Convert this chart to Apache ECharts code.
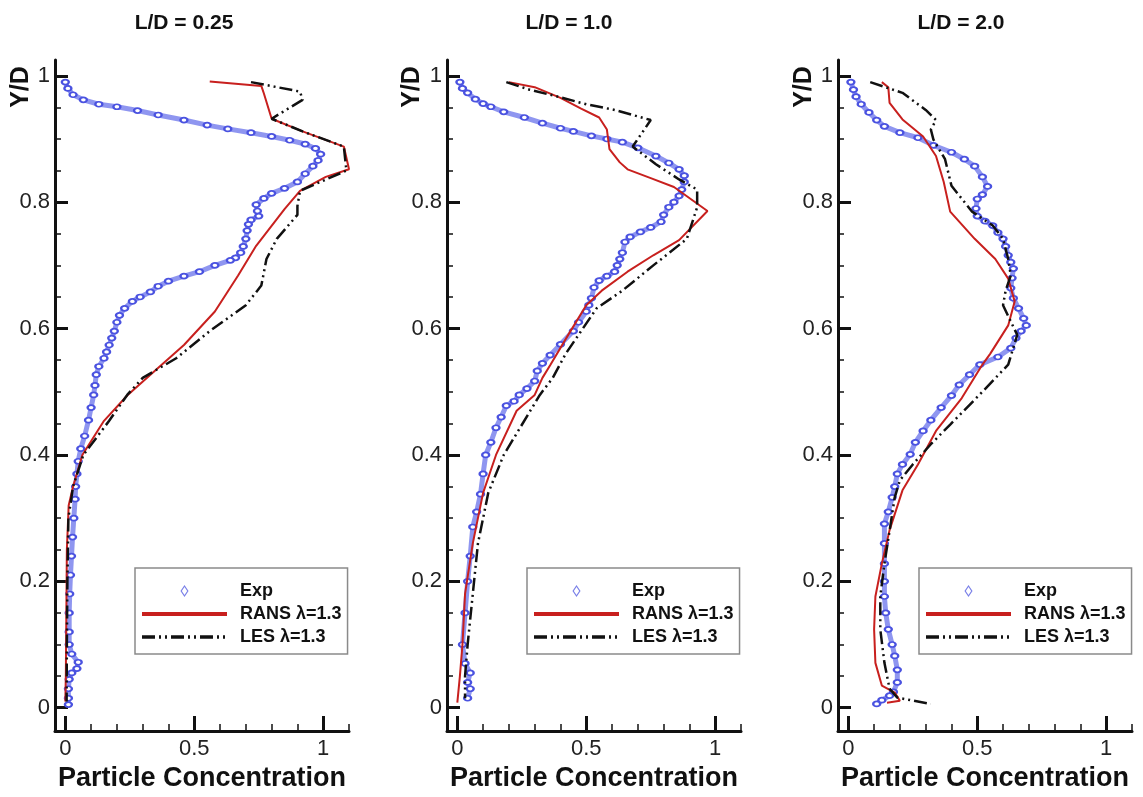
<!DOCTYPE html>
<html>
<head>
<meta charset="utf-8">
<script src="https://cdn.jsdelivr.net/npm/echarts@6/dist/echarts.min.js"></script>
<style>
  html, body { margin: 0; padding: 0; background: #fff; }
  #chart { width: 1143px; height: 797px; }
</style>
</head>
<body>
<div id="chart"></div>
<script>
// Particle concentration profiles Y/D at three stations L/D
const panelTitles = ['L/D = 0.25', 'L/D = 1.0', 'L/D = 2.0'];
const seriesNames = ['Exp', 'RANS λ=1.3', 'LES λ=1.3'];
const xMajorTicks = [0, 0.5, 1];
const xMinorTicks = [0.1, 0.2, 0.3, 0.4, 0.6, 0.7, 0.8, 0.9, 1.1];
const yMajorTicks = [0, 0.2, 0.4, 0.6, 0.8, 1];
const yMinorTicks = [0.05, 0.1, 0.15, 0.25, 0.3, 0.35, 0.45, 0.5, 0.55, 0.65, 0.7, 0.75, 0.85, 0.9, 0.95];

// [concentration, Y/D]
const exp025 = [[0.0,0.99],[0.01,0.98],[0.03,0.97],[0.07,0.962],[0.13,0.955],[0.2,0.951],[0.28,0.945],[0.36,0.938],[0.46,0.93],[0.55,0.922],[0.63,0.916],[0.72,0.91],[0.8,0.904],[0.87,0.898],[0.93,0.892],[0.97,0.885],[0.99,0.876],[0.98,0.866],[0.96,0.857],[0.93,0.845],[0.9,0.832],[0.85,0.822],[0.8,0.814],[0.77,0.806],[0.74,0.796],[0.745,0.786],[0.75,0.778],[0.72,0.772],[0.71,0.765],[0.705,0.755],[0.7,0.742],[0.69,0.73],[0.68,0.72],[0.66,0.712],[0.64,0.708],[0.58,0.7],[0.52,0.69],[0.46,0.683],[0.4,0.675],[0.36,0.667],[0.33,0.658],[0.29,0.65],[0.26,0.643],[0.23,0.632],[0.21,0.621],[0.2,0.61],[0.19,0.596],[0.18,0.585],[0.17,0.574],[0.16,0.563],[0.15,0.553],[0.13,0.54],[0.12,0.527],[0.115,0.51],[0.11,0.495],[0.1,0.475],[0.09,0.455],[0.075,0.43],[0.06,0.41],[0.05,0.39],[0.045,0.37],[0.04,0.35],[0.038,0.33],[0.033,0.3],[0.028,0.27],[0.024,0.24],[0.02,0.21],[0.017,0.18],[0.015,0.15],[0.015,0.12],[0.015,0.1],[0.025,0.085],[0.05,0.072],[0.045,0.062],[0.025,0.055],[0.015,0.045],[0.012,0.03],[0.012,0.015],[0.012,0.005]];
const rans025 = [[0.56,0.991],[0.76,0.984],[0.77,0.972],[0.8,0.932],[0.92,0.912],[1.08,0.888],[1.1,0.852],[1.01,0.84],[0.91,0.818],[0.85,0.789],[0.74,0.731],[0.67,0.684],[0.58,0.627],[0.46,0.574],[0.33,0.527],[0.24,0.494],[0.15,0.454],[0.066,0.4],[0.03,0.35],[0.013,0.32],[0.006,0.25],[0.004,0.15],[0.002,0.05],[0.0,0.01]];
const les025 = [[0.72,0.99],[0.91,0.975],[0.92,0.962],[0.8,0.932],[0.92,0.912],[1.08,0.888],[1.09,0.85],[0.91,0.818],[0.9,0.794],[0.9,0.78],[0.82,0.742],[0.78,0.71],[0.76,0.668],[0.7,0.637],[0.56,0.596],[0.43,0.553],[0.3,0.522],[0.24,0.495],[0.17,0.454],[0.07,0.4],[0.03,0.35],[0.012,0.3],[0.008,0.2],[0.006,0.1],[0.005,0.01]];

const exp10 = [[0.01,0.99],[0.02,0.98],[0.04,0.973],[0.07,0.963],[0.1,0.956],[0.13,0.951],[0.18,0.943],[0.26,0.934],[0.33,0.925],[0.4,0.917],[0.45,0.912],[0.52,0.905],[0.58,0.9],[0.64,0.895],[0.7,0.886],[0.77,0.873],[0.82,0.862],[0.86,0.852],[0.88,0.842],[0.88,0.832],[0.87,0.82],[0.86,0.81],[0.84,0.8],[0.82,0.792],[0.8,0.78],[0.79,0.769],[0.75,0.76],[0.71,0.753],[0.67,0.745],[0.65,0.737],[0.64,0.72],[0.63,0.71],[0.62,0.7],[0.61,0.69],[0.58,0.683],[0.55,0.676],[0.53,0.665],[0.52,0.648],[0.51,0.637],[0.5,0.627],[0.47,0.61],[0.45,0.596],[0.4,0.575],[0.36,0.558],[0.33,0.545],[0.31,0.533],[0.3,0.517],[0.27,0.505],[0.24,0.495],[0.22,0.485],[0.19,0.478],[0.17,0.46],[0.15,0.443],[0.13,0.42],[0.11,0.4],[0.1,0.37],[0.09,0.338],[0.075,0.31],[0.06,0.286],[0.05,0.24],[0.04,0.2],[0.03,0.15],[0.02,0.1],[0.03,0.07],[0.05,0.055],[0.04,0.04],[0.05,0.03],[0.04,0.015]];
const rans10 = [[0.2,0.99],[0.3,0.982],[0.4,0.965],[0.48,0.948],[0.55,0.934],[0.58,0.915],[0.59,0.884],[0.63,0.863],[0.66,0.852],[0.75,0.838],[0.84,0.824],[0.97,0.786],[0.86,0.74],[0.76,0.716],[0.66,0.69],[0.56,0.66],[0.5,0.637],[0.43,0.59],[0.36,0.542],[0.33,0.522],[0.3,0.495],[0.23,0.47],[0.15,0.4],[0.1,0.34],[0.06,0.26],[0.03,0.18],[0.02,0.1],[0.01,0.05],[0.0,0.008]];
const les10 = [[0.19,0.99],[0.28,0.978],[0.39,0.967],[0.5,0.955],[0.61,0.946],[0.75,0.93],[0.68,0.888],[0.77,0.86],[0.86,0.836],[0.93,0.82],[0.93,0.792],[0.89,0.742],[0.76,0.7],[0.64,0.66],[0.54,0.632],[0.48,0.596],[0.42,0.56],[0.37,0.522],[0.32,0.495],[0.18,0.4],[0.12,0.34],[0.08,0.26],[0.06,0.18],[0.04,0.1],[0.03,0.05],[0.03,0.015]];

const exp20 = [[0.01,0.99],[0.02,0.978],[0.03,0.967],[0.05,0.955],[0.08,0.942],[0.11,0.93],[0.14,0.92],[0.2,0.91],[0.27,0.902],[0.33,0.89],[0.4,0.879],[0.45,0.868],[0.49,0.857],[0.52,0.84],[0.54,0.825],[0.52,0.812],[0.5,0.805],[0.495,0.79],[0.5,0.778],[0.53,0.77],[0.56,0.763],[0.58,0.752],[0.6,0.742],[0.61,0.73],[0.62,0.716],[0.63,0.705],[0.64,0.695],[0.635,0.68],[0.63,0.664],[0.64,0.648],[0.66,0.632],[0.68,0.616],[0.69,0.605],[0.67,0.596],[0.65,0.585],[0.63,0.569],[0.58,0.555],[0.51,0.543],[0.47,0.527],[0.43,0.511],[0.4,0.494],[0.36,0.475],[0.32,0.455],[0.29,0.438],[0.26,0.42],[0.24,0.401],[0.21,0.385],[0.19,0.37],[0.18,0.35],[0.17,0.333],[0.155,0.31],[0.14,0.291],[0.14,0.26],[0.14,0.228],[0.14,0.2],[0.14,0.176],[0.145,0.15],[0.155,0.124],[0.17,0.1],[0.18,0.082],[0.19,0.06],[0.19,0.04],[0.175,0.025],[0.16,0.019],[0.13,0.012],[0.11,0.006]];
const rans20 = [[0.13,0.99],[0.155,0.982],[0.16,0.957],[0.21,0.931],[0.29,0.904],[0.34,0.873],[0.37,0.832],[0.395,0.785],[0.49,0.742],[0.57,0.71],[0.62,0.679],[0.645,0.643],[0.62,0.605],[0.55,0.56],[0.52,0.543],[0.44,0.49],[0.34,0.438],[0.27,0.385],[0.21,0.344],[0.16,0.281],[0.13,0.228],[0.105,0.176],[0.1,0.124],[0.105,0.071],[0.13,0.035],[0.18,0.024],[0.2,0.011],[0.15,0.008]];
const les20 = [[0.085,0.99],[0.21,0.973],[0.3,0.946],[0.34,0.93],[0.32,0.915],[0.33,0.899],[0.375,0.868],[0.4,0.826],[0.48,0.785],[0.56,0.763],[0.6,0.742],[0.62,0.71],[0.63,0.684],[0.61,0.66],[0.6,0.637],[0.63,0.611],[0.655,0.59],[0.62,0.543],[0.52,0.5],[0.395,0.448],[0.32,0.417],[0.25,0.385],[0.2,0.36],[0.18,0.333],[0.16,0.28],[0.14,0.228],[0.124,0.176],[0.124,0.124],[0.14,0.071],[0.16,0.03],[0.19,0.016],[0.32,0.006]];

const panelData = [
  [exp025, rans025, les025],
  [exp10, rans10, les10],
  [exp20, rans20, les20]
];

const FONT = '"Liberation Sans", Arial, Helvetica, sans-serif';
const INK = '#111';
const BLUE = '#4a52e0';
const RED = '#c8201e';
const DASH_DOT_DOT = [13, 4, 2, 4, 2, 4];
const DIAMOND_ICON = 'path://M5,0L9,6L5,12L1,6Z';

// layout of the three panels
const gridLeft = [55, 447, 838];
const gridWidth = 294;
const gridTop = 60;
const gridHeight = 675.5;
const legendLeft = [135, 527, 919];
const titleX = [184, 569, 961];
const ylabX = [21, 412, 804];

const fmt = v => String(Math.round(v * 100) / 100);

const grid = [], xAxis = [], yAxis = [], series = [], legend = [], graphic = [];

panelData.forEach((sets, p) => {
  grid.push({ left: gridLeft[p], top: gridTop, width: gridWidth, height: gridHeight });

  // major x axis: line, labels, long ticks, name
  xAxis.push({
    type: 'value', gridIndex: p, position: 'bottom', min: -0.04, max: 1.1,
    splitLine: { show: false },
    axisLine: { show: true, onZero: false, lineStyle: { color: INK, width: 3 } },
    axisTick: { show: true, inside: true, length: 15, customValues: xMajorTicks, lineStyle: { color: INK, width: 3 } },
    axisLabel: { show: true, customValues: xMajorTicks, formatter: fmt, margin: 7,
      fontFamily: FONT, fontSize: 22, color: '#222' },
    name: 'Particle Concentration', nameLocation: 'middle', nameGap: 33,
    nameTextStyle: { fontFamily: FONT, fontSize: 27, fontWeight: 'bold', color: INK }
  });
  // minor x ticks
  xAxis.push({
    type: 'value', gridIndex: p, position: 'bottom', min: -0.04, max: 1.1,
    splitLine: { show: false }, axisLine: { show: false, onZero: false },
    axisTick: { show: true, inside: true, length: 7, customValues: xMinorTicks, lineStyle: { color: INK, width: 1.5 } },
    axisLabel: { show: false }
  });
  // major y axis
  yAxis.push({
    type: 'value', gridIndex: p, position: 'left', min: -0.037, max: 1.025,
    splitLine: { show: false },
    axisLine: { show: true, onZero: false, lineStyle: { color: INK, width: 3 } },
    axisTick: { show: true, inside: true, length: 13, customValues: yMajorTicks, lineStyle: { color: INK, width: 3 } },
    axisLabel: { show: true, customValues: yMajorTicks, formatter: fmt, margin: 5,
      fontFamily: FONT, fontSize: 22, color: '#222' }
  });
  // minor y ticks
  yAxis.push({
    type: 'value', gridIndex: p, position: 'left', min: -0.037, max: 1.025,
    splitLine: { show: false }, axisLine: { show: false, onZero: false },
    axisTick: { show: true, inside: true, length: 6, customValues: yMinorTicks, lineStyle: { color: INK, width: 1.5 } },
    axisLabel: { show: false }
  });

  const xi = p * 2, yi = p * 2;
  series.push({
    name: seriesNames[0], type: 'line', xAxisIndex: xi, yAxisIndex: yi, data: sets[0],
    symbol: 'emptyCircle', symbolSize: [7, 5], showSymbol: true, showAllSymbol: true,
    lineStyle: { color: 'rgba(75,85,230,0.62)', width: 5 },
    itemStyle: { color: BLUE, borderWidth: 1.2 },
    emphasis: { disabled: true }, z: 2
  });
  series.push({
    name: seriesNames[1], type: 'line', xAxisIndex: xi, yAxisIndex: yi, data: sets[1],
    symbol: 'none', lineStyle: { color: RED, width: 2 }, itemStyle: { color: RED },
    emphasis: { disabled: true }, z: 3
  });
  series.push({
    name: seriesNames[2], type: 'line', xAxisIndex: xi, yAxisIndex: yi, data: sets[2],
    symbol: 'none', lineStyle: { color: INK, width: 2.5, type: DASH_DOT_DOT }, itemStyle: { color: INK },
    emphasis: { disabled: true }, z: 4
  });

  legend.push({
    left: legendLeft[p], top: 568, orient: 'vertical', selectedMode: false,
    itemWidth: 85, itemHeight: 10, itemGap: 5, padding: [14, 6, 8, 5],
    symbolKeepAspect: true,
    borderColor: '#8a8a8a', borderWidth: 1.5, backgroundColor: '#fff',
    textStyle: { fontFamily: FONT, fontWeight: 'bold', fontSize: 18, color: INK, padding: [0, 0, 0, 8] },
    data: [
      { name: seriesNames[0], icon: DIAMOND_ICON,
        itemStyle: { color: '#fff', borderColor: '#7a80e8', borderWidth: 1.2 } },
      { name: seriesNames[1], lineStyle: { width: 4 }, itemStyle: { opacity: 0 } },
      { name: seriesNames[2], lineStyle: { width: 3.5 }, itemStyle: { opacity: 0 } }
    ]
  });

  graphic.push({
    type: 'text', x: titleX[p], y: 23, silent: true,
    style: { text: panelTitles[p], font: 'bold 21px ' + FONT, fill: INK, align: 'center', verticalAlign: 'middle' }
  });
  graphic.push({
    type: 'text', x: ylabX[p], y: 87, rotation: Math.PI / 2, silent: true,
    style: { text: 'Y/D', font: 'bold 25px ' + FONT, fill: INK, align: 'center', verticalAlign: 'middle' }
  });
});

const chart = echarts.init(document.getElementById('chart'), null, { renderer: 'canvas' });
chart.setOption({
  animation: false,
  backgroundColor: '#fff',
  grid, xAxis, yAxis, series, legend, graphic
});
</script>
</body>
</html>
